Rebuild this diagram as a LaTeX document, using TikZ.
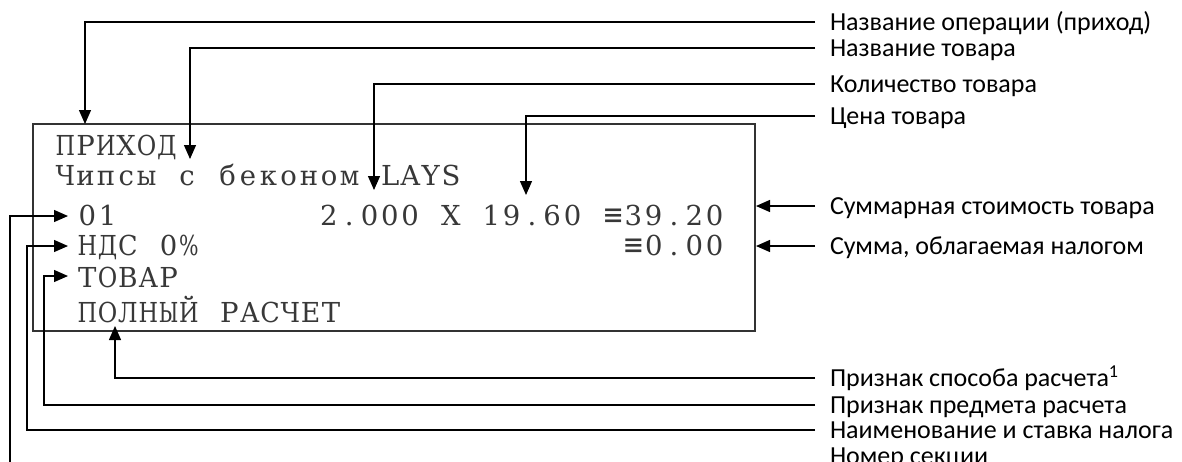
\documentclass[tikz,border=0pt]{standalone}
\usepackage{fontspec}
\usepackage{graphicx}
\setmainfont{Carlito}
\newfontfamily\rcptfont{DejaVu Serif}
\newfontfamily\eqvfont{DejaVu Sans Mono}
\usetikzlibrary{arrows.meta}
\newcommand\eqv{{\eqvfont\fontsize{31}{32}\selectfont ≡}}
\newcommand\cells[1]{\cellloop#1\relax}
\def\cellloop#1{\ifx#1\relax\else\cellchar{#1}\expandafter\cellloop\fi}
\newcommand\cellchar[1]{\sbox0{#1}\ifdim\wd0>19.5pt\makebox[20.3pt]{\resizebox{19.5pt}{\height}{#1}}\else\makebox[20.3pt]{#1}\fi}
\begin{document}
\begin{tikzpicture}[x=1pt,y=-1pt,
  lbl/.style={font=\fontsize{26}{30}\selectfont, inner sep=0pt, text height=17pt, text depth=0pt, anchor=west, outer xsep=15pt},
  mono/.style={font=\fontsize{27.5}{30}\selectfont\rcptfont, text=black!78, inner sep=0pt},
  conn/.style={draw, line width=1.3pt, -{Triangle[length=14pt,width=12pt]}},
  boxstyle/.style={draw=black!80, line width=1.6pt, inner sep=0pt, minimum width=722pt, minimum height=207pt}]
\useasboundingbox (0,0) rectangle (1182,461);
\clip (0,0) rectangle (1182,461);
\fill[white] (0,0) rectangle (1182,461);
% receipt box
\node[boxstyle] (rcpt) at (394,227.5) {};
% receipt text
\node[mono, anchor=base west] (m1) at (55,155) {\cells{ПРИХОД}};
\node[mono, anchor=base west] (m2) at (55,185) {\cells{Чипсы~с~беконом~LAYS}};
\node[mono, anchor=base west] (m3a) at (77,225) {\cells{01}};
\node[mono, anchor=base east] (m3b) at (725,225) {\cells{2.000~X~19.60~\eqv39.20}};
\node[mono, anchor=base west] (m4a) at (77,255) {\cells{НДС~0\%}};
\node[mono, anchor=base east] (m4b) at (725,255) {\cells{\eqv0.00}};
\node[mono, anchor=base west] (m5) at (77,287) {\cells{ТОВАР}};
\node[mono, anchor=base west] (m6) at (77,322) {\cells{ПОЛНЫЙ~РАСЧЕТ}};
% labels
\node[lbl] (l1) at (815,22) {Название операции (приход)};
\node[lbl] (l2) at (815,48) {Название товара};
\node[lbl] (l3) at (815,84) {Количество товара};
\node[lbl] (l4) at (815,116) {Цена товара};
\node[lbl] (l5) at (815,206) {Суммарная стоимость товара};
\node[lbl] (l6) at (815,246) {Сумма, облагаемая налогом};
\node[lbl] (l7) at (815,378) {Признак способа расчета\textsuperscript{1}};
\node[lbl] (l8) at (815,405) {Признак предмета расчета};
\node[lbl] (l9) at (815,430) {Наименование и ставка налога};
\node[lbl] (l10) at (815,456) {Номер секции};
% tips and corners
\coordinate (t1) at (85,124);
\coordinate (t2) at (190,159);
\coordinate (t3) at (374,190);
\coordinate (t4) at (526,195);
\coordinate (t5) at (756,206);
\coordinate (t6) at (756,246);
\coordinate (t7) at (115,326);
\coordinate (c8) at (44,276);
\coordinate (t8) at (68,276);
\coordinate (c9) at (27,246);
\coordinate (t9) at (68,246);
\coordinate (c10) at (10,216);
\coordinate (t10) at (68,216);
% connectors
\draw[conn] (l1.west) -| (t1);
\draw[conn] (l2.west) -| (t2);
\draw[conn] (l3.west) -| (t3);
\draw[conn] (l4.west) -| (t4);
\draw[conn] (l5.west) -- (t5);
\draw[conn] (l6.west) -- (t6);
\draw[conn] (l7.west) -| (t7);
\draw[conn] (l8.west) -| (c8) -- (t8);
\draw[conn] (l9.west) -| (c9) -- (t9);
\draw[conn] (l10.south west) -| (c10) -- (t10);
\end{tikzpicture}
\end{document}
